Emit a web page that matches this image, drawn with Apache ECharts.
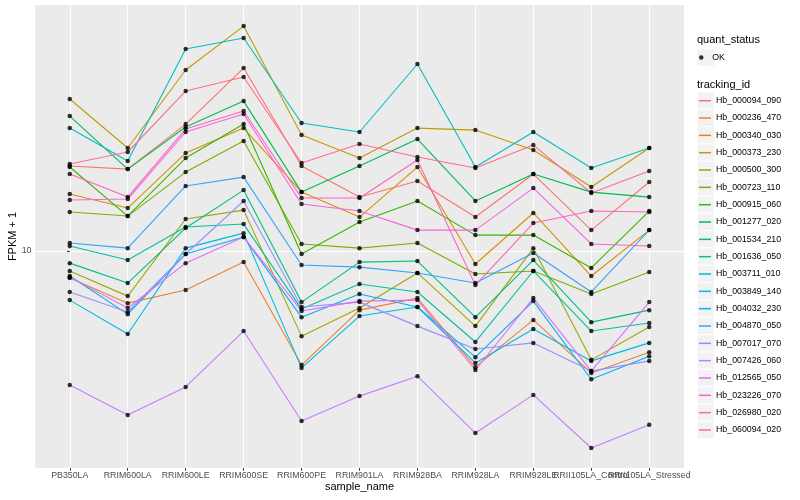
<!DOCTYPE html>
<html>
<head>
<meta charset="utf-8">
<script src="https://cdn.jsdelivr.net/npm/echarts@6/dist/echarts.min.js"></script>
<style>html,body{margin:0;padding:0;background:#fff;}#c{width:800px;height:500px;}</style>
</head>
<body>
<div id="c"></div>
<script>
const categories = ['PB350LA','RRIM600LA','RRIM600LE','RRIM600SE','RRIM600PE','RRIM901LA','RRIM928BA','RRIM928LA','RRIM928LE','RRII105LA_Control','RRII105LA_Stressed'];
const yTicks = [10];

const Hb_000094_090 = [15.45, 15.21, 19.15, 25.51, 15.45, 13.18, 14.31, 11.90, 14.83, 11.13, 14.24];
const Hb_000236_470 = [8.71, 7.66, 8.19, 9.45, 5.58, 7.39, 7.86, 5.52, 7.03, 5.36, 5.96];
const Hb_000340_030 = [13.39, 12.46, 16.51, 18.76, 13.52, 11.90, 15.37, 9.36, 12.15, 8.80, 11.13];
const Hb_000373_230 = [21.77, 16.94, 25.25, 31.62, 18.10, 16.09, 18.76, 18.57, 16.77, 13.88, 16.94];
const Hb_000500_300 = [9.03, 7.94, 11.78, 12.33, 6.47, 7.47, 8.94, 6.81, 10.15, 5.73, 6.78];
const Hb_000723_110 = [12.21, 11.96, 14.98, 17.56, 10.37, 10.15, 10.42, 8.89, 9.03, 8.03, 8.98];
const Hb_000915_060 = [15.37, 11.96, 16.09, 19.15, 9.85, 11.60, 12.92, 10.85, 10.85, 9.17, 12.27];
const Hb_001277_020 = [19.95, 15.21, 18.86, 21.54, 13.52, 15.45, 17.74, 12.92, 14.83, 13.52, 13.18];
const Hb_001534_210 = [9.40, 8.49, 11.25, 13.66, 7.70, 9.45, 9.50, 7.13, 9.55, 6.95, 7.39];
const Hb_001636_050 = [10.26, 9.55, 11.31, 11.48, 7.43, 8.45, 8.11, 6.28, 9.03, 6.64, 6.92];
const Hb_003711_010 = [18.76, 15.85, 28.11, 29.74, 19.25, 18.39, 26.04, 15.37, 18.39, 15.29, 16.94];
const Hb_003849_140 = [7.78, 6.54, 10.15, 10.96, 5.50, 7.17, 7.51, 5.64, 6.71, 5.70, 6.25];
const Hb_004032_230 = [8.80, 7.24, 9.85, 10.74, 7.13, 8.03, 7.51, 5.81, 7.74, 5.19, 5.84];
const Hb_004870_050 = [10.42, 10.15, 13.95, 14.60, 9.31, 9.21, 8.94, 8.49, 9.90, 8.11, 11.13];
const Hb_007017_070 = [8.11, 7.32, 9.85, 12.92, 7.51, 7.70, 6.81, 6.06, 6.25, 5.41, 5.70];
const Hb_007426_060 = [5.04, 4.32, 4.99, 6.64, 4.19, 4.76, 5.27, 3.94, 4.79, 3.65, 4.11];
const Hb_012565_050 = [8.75, 7.47, 9.40, 10.74, 7.36, 7.74, 7.78, 5.44, 7.86, 5.41, 7.70];
const Hb_023226_070 = [12.98, 13.05, 18.39, 20.16, 12.72, 12.27, 11.13, 11.13, 13.80, 10.37, 10.26];
const Hb_026980_020 = [14.83, 13.18, 18.67, 20.47, 13.12, 13.12, 15.93, 8.40, 11.54, 12.27, 12.21];
const Hb_060094_020 = [15.61, 16.60, 22.68, 24.36, 15.69, 17.29, 16.18, 15.29, 17.20, 13.46, 15.06];

const trackingIds = ['Hb_000094_090','Hb_000236_470','Hb_000340_030','Hb_000373_230','Hb_000500_300','Hb_000723_110','Hb_000915_060','Hb_001277_020','Hb_001534_210','Hb_001636_050','Hb_003711_010','Hb_003849_140','Hb_004032_230','Hb_004870_050','Hb_007017_070','Hb_007426_060','Hb_012565_050','Hb_023226_070','Hb_026980_020','Hb_060094_020'];
const seriesValues = [Hb_000094_090,Hb_000236_470,Hb_000340_030,Hb_000373_230,Hb_000500_300,Hb_000723_110,Hb_000915_060,Hb_001277_020,Hb_001534_210,Hb_001636_050,Hb_003711_010,Hb_003849_140,Hb_004032_230,Hb_004870_050,Hb_007017_070,Hb_007426_060,Hb_012565_050,Hb_023226_070,Hb_026980_020,Hb_060094_020];
const colors = ['#F8766D','#EA8331','#D89000','#C09B00','#A3A500','#7CAE00','#39B600','#00BB4E','#00BF7D','#00C1A3','#00BFC4','#00BAE0','#00B0F6','#35A2FF','#9590FF','#C77CFF','#E76BF3','#FA62DB','#FF62BC','#FF6C91'];
const quantStatus = ['OK'];

const FONT = '"Liberation Sans", Arial, Helvetica, sans-serif';
const idx = categories.map((c, i) => i);
const evenIdx = idx.filter(i => i % 2 === 0);
const oddIdx = idx.filter(i => i % 2 === 1);

const lineSeries = trackingIds.map((id, k) => ({
  name: id,
  type: 'line',
  xAxisIndex: 0,
  color: colors[k],
  showSymbol: false,
  symbol: 'none',
  lineStyle: {width: 1.1, color: colors[k]},
  z: 2,
  data: seriesValues[k].map((v, i) => [i, v])
}));

const pointData = [];
seriesValues.forEach(arr => arr.forEach((v, i) => pointData.push([i, v])));

const graphics = [];
const keyX = 697, keySize = 17.3;
graphics.push({type: 'rect', z: 0, shape: {x: keyX, y: 57.5 - keySize/2, width: keySize, height: keySize}, style: {fill: '#F2F2F2', stroke: '#FFFFFF', lineWidth: 1}});
trackingIds.forEach((id, k) => {
  const cy = 100.7 + 17.33 * k;
  graphics.push({type: 'rect', z: 0, shape: {x: keyX, y: cy - keySize/2, width: keySize, height: keySize}, style: {fill: '#F2F2F2', stroke: '#FFFFFF', lineWidth: 1}});
});

const xLabelStyle = {fontSize: 8.8, color: '#4D4D4D', margin: 3.5, hideOverlap: false, showMinLabel: true, showMaxLabel: true, fontFamily: FONT, formatter: v => categories[Math.round(v)]};

const chart = echarts.init(document.getElementById('c'), null, {renderer: 'canvas'});
chart.setOption({
  animation: false,
  backgroundColor: '#FFFFFF',
  textStyle: {fontFamily: FONT},
  title: [
    {text: 'quant_status', left: 697, top: 34, padding: 0, textStyle: {fontSize: 11, fontWeight: 'normal', color: '#000', fontFamily: FONT}},
    {text: 'tracking_id', left: 697, top: 79, padding: 0, textStyle: {fontSize: 11, fontWeight: 'normal', color: '#000', fontFamily: FONT}}
  ],
  grid: {left: 35, top: 5, right: 116, bottom: 32, containLabel: false, outerBoundsMode: 'none', show: true, backgroundColor: '#EBEBEB', borderWidth: 0},
  legend: [
    {data: quantStatus, orient: 'vertical', left: 699, top: 57.5 - 8.66, padding: 0, itemWidth: 12, itemHeight: 4.5, icon: 'circle', selectedMode: false,
     textStyle: {fontSize: 8.8, lineHeight: 17.33, color: '#000', fontFamily: FONT}},
    {data: trackingIds, orient: 'vertical', left: 699, top: 100.7 - 8.66, padding: 0, itemWidth: 12, itemHeight: 1.5, itemGap: 0.0, icon: 'rect', selectedMode: false,
     textStyle: {fontSize: 8.8, lineHeight: 17.33, color: '#000', fontFamily: FONT}}
  ],
  xAxis: [{
    type: 'value', min: -0.6, max: 10.6, position: 'bottom',
    name: 'sample_name', nameLocation: 'middle', nameGap: 13, nameMoveOverlap: false,
    nameTextStyle: {fontSize: 11, color: '#000', fontFamily: FONT},
    axisLine: {show: false},
    axisTick: {show: true, length: 2.74, customValues: idx, lineStyle: {color: '#333333', width: 1}},
    axisLabel: Object.assign({customValues: evenIdx}, xLabelStyle),
    splitLine: {show: true, lineStyle: {color: '#FFFFFF', width: 1.07}}
  }, {
    type: 'value', min: -0.6, max: 10.6, position: 'bottom', offset: 0,
    axisLine: {show: false},
    axisTick: {show: false, customValues: oddIdx},
    axisLabel: Object.assign({customValues: oddIdx}, xLabelStyle),
    splitLine: {show: false}
  }],
  yAxis: {
    type: 'log', logBase: 10, min: 3.295, max: 35.22,
    name: 'FPKM + 1', nameLocation: 'middle', nameGap: 17, nameMoveOverlap: false,
    nameTextStyle: {fontSize: 11, color: '#000', fontFamily: FONT},
    axisLine: {show: false},
    axisTick: {show: true, length: 2.74, customValues: yTicks, lineStyle: {color: '#333333', width: 1}},
    axisLabel: {customValues: yTicks, fontSize: 8.8, color: '#4D4D4D', margin: 3.5, showMinLabel: true, showMaxLabel: true, fontFamily: FONT},
    splitLine: {show: true, lineStyle: {color: '#FFFFFF', width: 1.07}}
  },
  graphic: graphics,
  series: lineSeries.concat([{
    name: 'OK', type: 'scatter', xAxisIndex: 0, color: '#000000', symbol: 'circle', symbolSize: 4.5,
    itemStyle: {color: '#000000'}, z: 5, data: pointData
  }])
});
</script>
</body>
</html>
